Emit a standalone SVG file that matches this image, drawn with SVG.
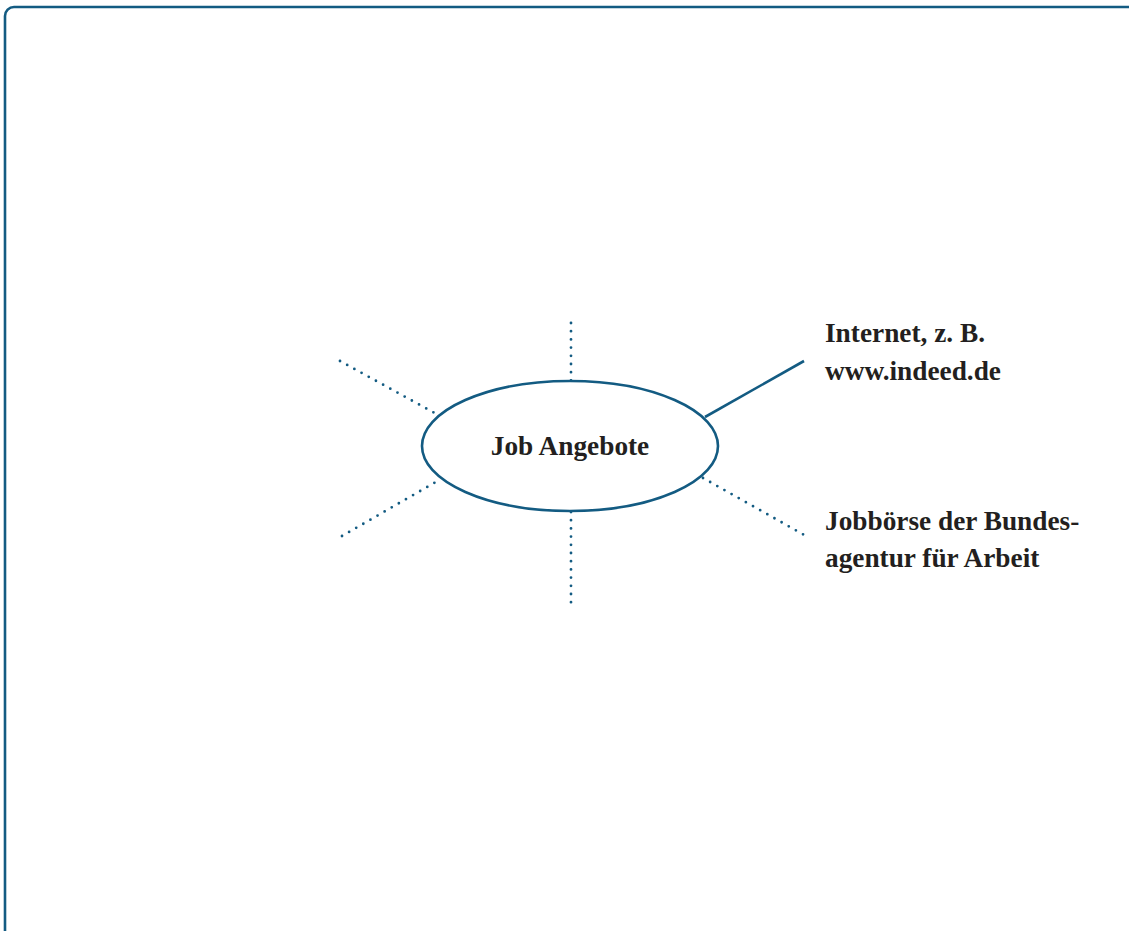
<svg xmlns="http://www.w3.org/2000/svg" width="1129" height="931" viewBox="0 0 1129 931">
<style>
.frame{fill:none;stroke:#135b82;stroke-width:2.6}
.node{fill:#fff;stroke:#135b82;stroke-width:2.6}
.solid{stroke:#135b82;stroke-width:2.6;fill:none}
.dot{stroke:#135b82;stroke-width:2.8;stroke-linecap:round;stroke-dasharray:0 8.2;fill:none}
text{font-family:"Liberation Serif","Times New Roman",serif;font-weight:bold;font-size:27.3px;fill:#231f20}
</style>
<rect class="frame" x="5" y="7" width="1140" height="940" rx="9"/>
<g id="connectors">
<line class="dot" x1="571" y1="323" x2="571" y2="381"/>
<line class="dot" x1="571" y1="512" x2="571" y2="606"/>
<line class="dot" x1="340" y1="361" x2="440" y2="416"/>
<line class="dot" x1="342" y1="536" x2="441" y2="479"/>
<line class="dot" x1="703" y1="478" x2="806" y2="536"/>
<line class="solid" x1="705" y1="417" x2="804" y2="361"/>
</g>
<g id="center">
<ellipse class="node" cx="570" cy="446" rx="148" ry="65"/>
<text x="570" y="455" text-anchor="middle">Job Angebote</text>
</g>
<g id="internet">
<text x="825" y="342">Internet, z. B.</text>
<text x="825" y="380">www.indeed.de</text>
</g>
<g id="jobboerse">
<text x="825" y="530">Jobbörse der Bundes-</text>
<text x="825" y="567">agentur für Arbeit</text>
</g>
</svg>
